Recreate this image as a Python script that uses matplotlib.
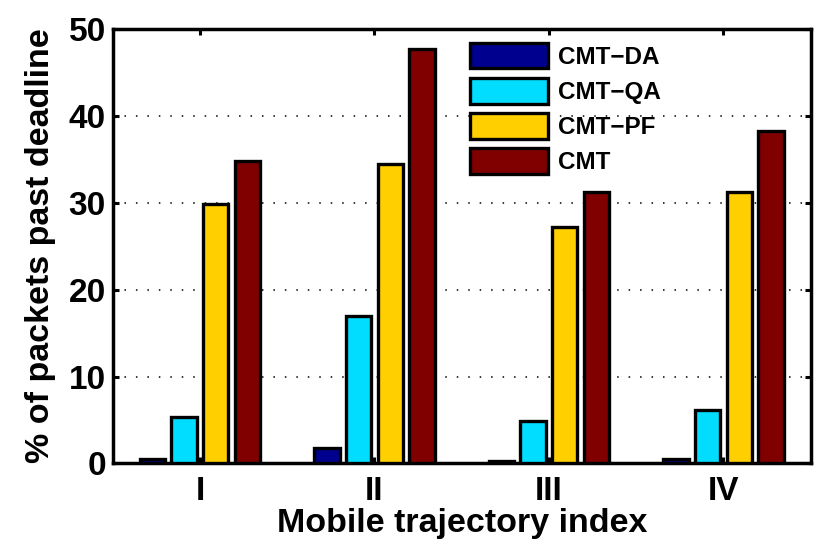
import matplotlib
matplotlib.use('Agg')
import matplotlib.pyplot as plt
import numpy as np

# дані
groups = ['I', 'II', 'III', 'IV']
series = ['CMT\u2212DA', 'CMT\u2212QA', 'CMT\u2212PF', 'CMT']
cmt_da = [0.5, 1.8, 0.3, 0.5]
cmt_qa = [5.3, 17.0, 4.9, 6.2]
cmt_pf = [29.8, 34.4, 27.2, 31.2]
cmt = [34.8, 47.7, 31.2, 38.2]
colors = ['#00008F', '#00DDFF', '#FFCF00', '#800000']

plt.rcParams['font.family'] = ['Liberation Sans', 'DejaVu Sans']
plt.rcParams['font.weight'] = 'bold'

fig = plt.figure(figsize=(8.3, 5.55), dpi=100)
ax = fig.add_axes([0.1358, 0.1649, 0.9767 - 0.1358, 0.9483 - 0.1649])

x = np.arange(1, len(groups) + 1)
# як у MATLAB bar для 4 серій
step = 0.727 / 4
width = step * 0.8
for k, (vals, name, col) in enumerate(zip([cmt_da, cmt_qa, cmt_pf, cmt], series, colors)):
    ax.bar(x + (k - 1.5) * step, vals, width, color=col, edgecolor='black',
           linewidth=2.4, label=name, zorder=3)

ax.set_xlim(0.5, 4.5)
ax.set_ylim(0, 50)
ax.set_xticks(x)
ax.set_xticklabels(groups)
ax.set_yticks([0, 10, 20, 30, 40, 50])

ax.yaxis.grid(True, color='black', linestyle=(0, (1, 6.5)), linewidth=1.1)
ax.set_axisbelow(True)

ax.tick_params(direction='in', top=True, right=True, length=4, width=2.2,
               labelsize=24, pad=5)
ax.tick_params(axis='x', pad=9)
for s in ax.spines.values():
    s.set_linewidth(2.5)

ax.set_xlabel('Mobile trajectory index', fontsize=24.5, fontweight='bold', labelpad=1)
ax.set_ylabel('% of packets past deadline', fontsize=24.5, fontweight='bold', labelpad=9)

ax.legend(loc='upper left', bbox_to_anchor=(0.512, 0.968), frameon=False,
          fontsize=17.5, handlelength=3.2, handleheight=1.25, handletextpad=0.4,
          labelspacing=0.38, borderpad=0, borderaxespad=0)

fig.savefig('out.png', dpi=100)
